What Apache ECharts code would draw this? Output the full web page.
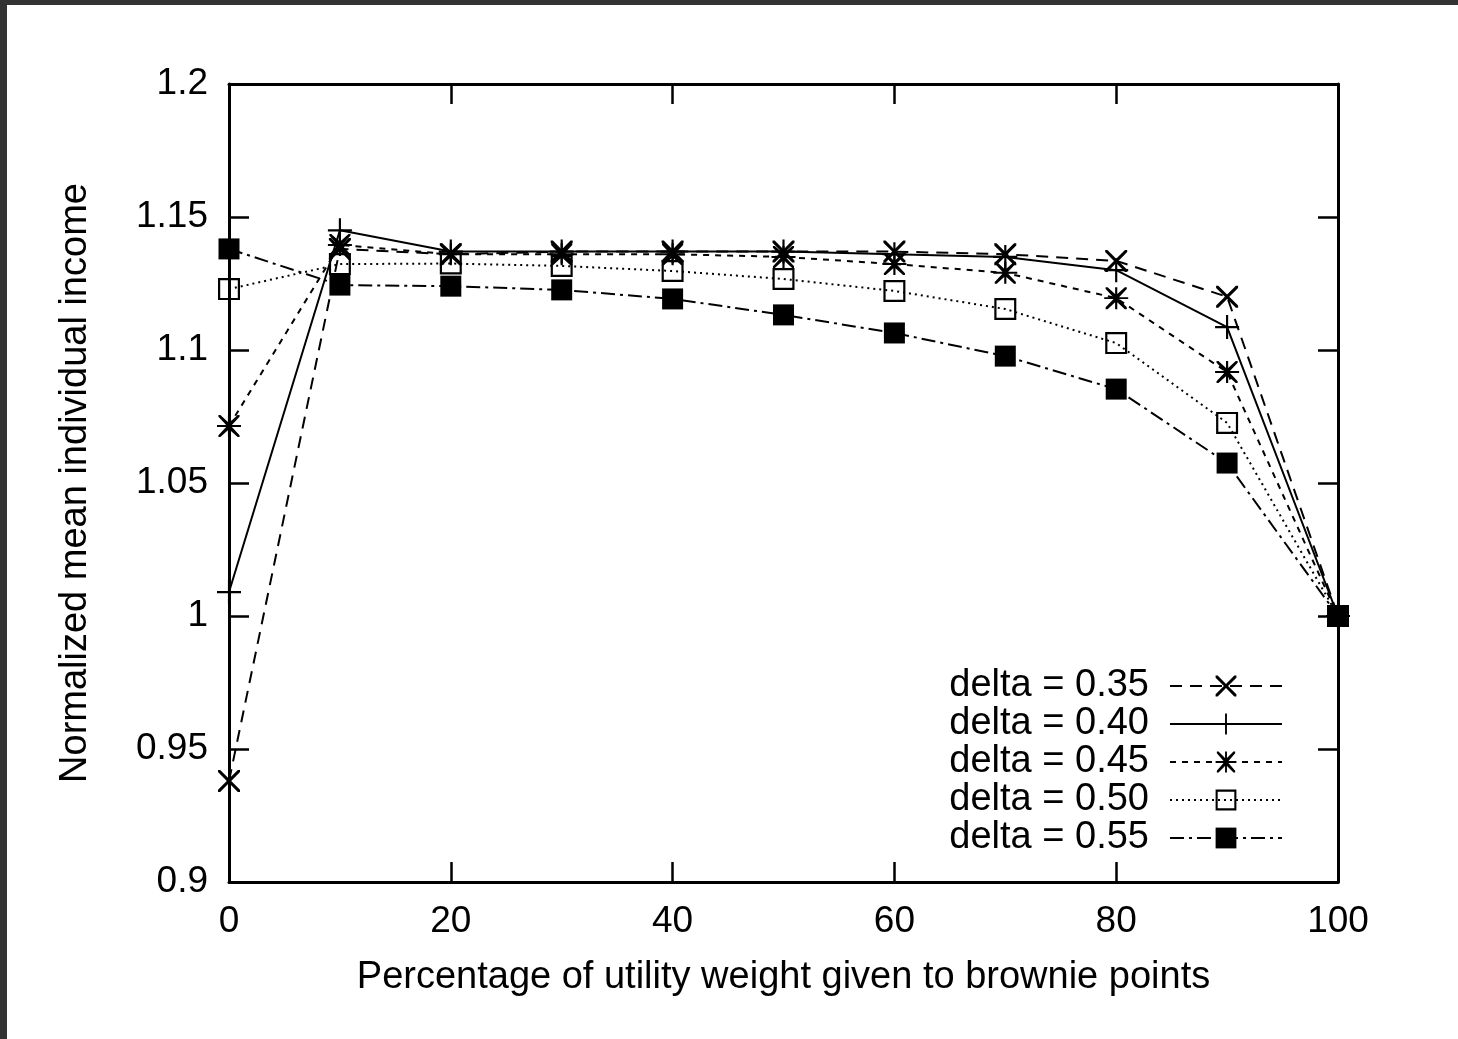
<!DOCTYPE html>
<html>
<head>
<meta charset="utf-8">
<script src="https://cdn.jsdelivr.net/npm/echarts@6/dist/echarts.min.js"></script>
<style>
  html, body { margin: 0; padding: 0; background: #fff; }
  #chart { width: 1458px; height: 1039px; }
</style>
</head>
<body>
<div id="chart"></div>
<script>
// ---- data ----
const xValues = [0, 10, 20, 30, 40, 50, 60, 70, 80, 90, 100];
const delta035 = [0.938, 1.138, 1.136, 1.137, 1.137, 1.137, 1.137, 1.136, 1.1335, 1.120, 1.000];
const delta040 = [1.009, 1.145, 1.137, 1.137, 1.137, 1.137, 1.136, 1.135, 1.130, 1.1086, 1.000];
const delta045 = [1.0714, 1.1395, 1.136, 1.136, 1.136, 1.135, 1.1323, 1.129, 1.1195, 1.0917, 1.000];
const delta050 = [1.1229, 1.1323, 1.1325, 1.1316, 1.1297, 1.1267, 1.1222, 1.1154, 1.1026, 1.0726, 1.000];
const delta055 = [1.138, 1.1244, 1.124, 1.1226, 1.1192, 1.1132, 1.1064, 1.0977, 1.0853, 1.0575, 1.000];
const seriesNames = ['delta = 0.35', 'delta = 0.40', 'delta = 0.45', 'delta = 0.50', 'delta = 0.55'];
const yTickValues = [0.9, 0.95, 1, 1.05, 1.1, 1.15, 1.2];
const xTickValues = [0, 20, 40, 60, 80, 100];
const xTitle = 'Percentage of utility weight given to brownie points';
const yTitle = 'Normalized mean individual income';

// ---- marker shapes ----
const SYM_X = 'path://M0,0 L10,0 L50,40 L90,0 L100,0 L100,10 L60,50 L100,90 L100,100 L90,100 L50,60 L10,100 L0,100 L0,90 L40,50 L0,10 Z';
const SYM_PLUS = 'path://M45.5,0 L54.5,0 L54.5,45.5 L100,45.5 L100,54.5 L54.5,54.5 L54.5,100 L45.5,100 L45.5,54.5 L0,54.5 L0,45.5 L45.5,45.5 Z';
const SYM_STAR = 'path://M45.5,0 L54.5,0 L54.5,45.5 L100,45.5 L100,54.5 L54.5,54.5 L54.5,100 L45.5,100 L45.5,54.5 L0,54.5 L0,45.5 L45.5,45.5 Z M6,0 L14,0 L50,36 L86,0 L94,0 L94,8 L58,50 L94,92 L94,100 L86,100 L50,64 L14,100 L6,100 L6,92 L42,50 L6,8 Z';
const SYM_OSQ = 'path://M0,0 L100,0 L100,100 L0,100 Z M10,10 L10,90 L90,90 L90,10 Z';

const FONT = '"Liberation Sans", Arial, Helvetica, sans-serif';

function pairs(arr) { return xValues.map((x, i) => [x, arr[i]]); }

function mkSeries(name, arr, symbol, size, dash) {
  return {
    name: name,
    type: 'line',
    data: pairs(arr),
    symbol: symbol,
    symbolSize: size,
    showSymbol: true,
    clip: false,
    silent: true,
    itemStyle: { color: '#000' },
    lineStyle: { color: '#000', width: 2, type: dash },
    emphasis: { disabled: true },
    animation: false
  };
}

const chart = echarts.init(document.getElementById('chart'), null, { renderer: 'canvas' });

const axisLineStyle = { color: '#000', width: 3 };
const tickStyle = { color: '#000', width: 2.5 };

const option = {
  backgroundColor: '#fff',
  animation: false,
  graphic: [
    { type: 'rect', left: 0, top: 0, shape: { width: 1458, height: 5 }, style: { fill: '#333' }, silent: true },
    { type: 'rect', left: 0, top: 0, shape: { width: 7, height: 1039 }, style: { fill: '#333' }, silent: true }
  ],
  grid: { left: 229, top: 84, right: 120, bottom: 157, containLabel: false },
  legend: {
    orient: 'vertical',
    right: 170,
    top: 662,
    align: 'right',
    itemWidth: 112,
    itemHeight: 26,
    itemGap: 0,
    selectedMode: false,
    data: seriesNames,
    textStyle: { fontSize: 38, fontFamily: FONT, color: '#000', lineHeight: 38, padding: [0, 16, 0, 0] }
  },
  xAxis: [
    {
      type: 'value', min: 0, max: 100, interval: 20, position: 'bottom',
      name: xTitle, nameLocation: 'middle', nameGap: 77,
      nameTextStyle: { fontSize: 38, fontFamily: FONT, color: '#000' },
      axisLine: { show: true, onZero: false, lineStyle: axisLineStyle },
      axisTick: { show: true, inside: true, length: 20, lineStyle: tickStyle },
      axisLabel: { fontSize: 37, fontFamily: FONT, color: '#000', margin: 21,
        formatter: v => xTickValues.includes(v) ? String(v) : '' },
      splitLine: { show: false }
    },
    {
      type: 'value', min: 0, max: 100, interval: 20, position: 'top',
      axisLine: { show: true, onZero: false, lineStyle: axisLineStyle },
      axisTick: { show: true, inside: true, length: 20, lineStyle: tickStyle },
      axisLabel: { show: false },
      splitLine: { show: false }
    }
  ],
  yAxis: [
    {
      type: 'value', min: 0.9, max: 1.2, interval: 0.05, position: 'left',
      name: yTitle, nameLocation: 'middle', nameGap: 134,
      nameTextStyle: { fontSize: 38, fontFamily: FONT, color: '#000' },
      axisLine: { show: true, onZero: false, lineStyle: axisLineStyle },
      axisTick: { show: true, inside: true, length: 20, lineStyle: tickStyle },
      axisLabel: { fontSize: 37, fontFamily: FONT, color: '#000', margin: 21,
        formatter: v => {
          const r = parseFloat(v.toFixed(2));
          return yTickValues.some(t => Math.abs(t - r) < 1e-9) ? String(r) : '';
        } },
      splitLine: { show: false }
    },
    {
      type: 'value', min: 0.9, max: 1.2, interval: 0.05, position: 'right',
      axisLine: { show: true, onZero: false, lineStyle: axisLineStyle },
      axisTick: { show: true, inside: true, length: 20, lineStyle: tickStyle },
      axisLabel: { show: false },
      splitLine: { show: false }
    }
  ],
  series: [
    mkSeries(seriesNames[0], delta035, SYM_X, [22, 22], [12, 8]),
    mkSeries(seriesNames[1], delta040, SYM_PLUS, [24, 24], 'solid'),
    mkSeries(seriesNames[2], delta045, SYM_STAR, [24, 22], [6, 6]),
    mkSeries(seriesNames[3], delta050, SYM_OSQ, [22, 22], [2, 4]),
    mkSeries(seriesNames[4], delta055, 'rect', [21, 21], [14, 5, 3, 5])
  ]
};

chart.setOption(option);
</script>
</body>
</html>
